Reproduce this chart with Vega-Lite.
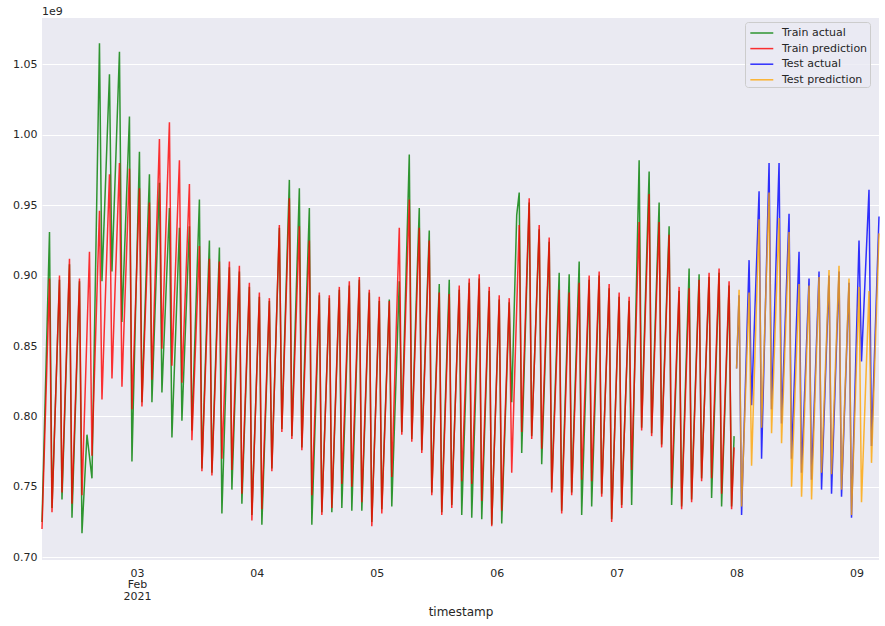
{
  "$schema": "https://vega.github.io/schema/vega-lite/v6.json",
  "width": 837,
  "height": 542,
  "autosize": {"type": "none"},
  "padding": {"left": 42, "top": 18, "right": 6, "bottom": 66},
  "background": "white",
  "title": {"text": "1e9", "anchor": "start", "frame": "group", "font": "DejaVu Sans", "fontSize": 11, "fontWeight": "normal", "color": "#262626", "offset": 1},
  "datasets": {
    "ta": [
      {"t":"2021-02-02T05:00","v":0.725},{"t":"2021-02-02T06:30","v":0.931},{"t":"2021-02-02T07:00","v":0.735},{"t":"2021-02-02T08:30","v":0.897},{"t":"2021-02-02T09:00","v":0.741},{"t":"2021-02-02T10:30","v":0.908},{"t":"2021-02-02T11:00","v":0.728},{"t":"2021-02-02T12:30","v":0.896},{"t":"2021-02-02T13:00","v":0.717},{"t":"2021-02-02T14:00","v":0.787},{"t":"2021-02-02T15:00","v":0.756},{"t":"2021-02-02T16:30","v":1.065},{"t":"2021-02-02T17:00","v":0.896},{"t":"2021-02-02T18:30","v":1.043},{"t":"2021-02-02T19:00","v":0.903},{"t":"2021-02-02T20:30","v":1.059},{"t":"2021-02-02T21:00","v":0.867},{"t":"2021-02-02T22:30","v":1.013},{"t":"2021-02-02T23:00","v":0.768},
      {"t":"2021-02-03T00:30","v":0.988},{"t":"2021-02-03T01:00","v":0.810},{"t":"2021-02-03T02:30","v":0.972},{"t":"2021-02-03T03:00","v":0.810},{"t":"2021-02-03T04:30","v":0.966},{"t":"2021-02-03T05:00","v":0.817},{"t":"2021-02-03T06:30","v":0.948},{"t":"2021-02-03T07:00","v":0.785},{"t":"2021-02-03T08:30","v":0.934},{"t":"2021-02-03T09:00","v":0.797},{"t":"2021-02-03T10:30","v":0.935},{"t":"2021-02-03T11:00","v":0.790},{"t":"2021-02-03T12:30","v":0.954},{"t":"2021-02-03T13:00","v":0.763},{"t":"2021-02-03T14:30","v":0.925},{"t":"2021-02-03T15:00","v":0.760},{"t":"2021-02-03T16:30","v":0.920},{"t":"2021-02-03T17:00","v":0.731},{"t":"2021-02-03T18:30","v":0.906},{"t":"2021-02-03T19:00","v":0.748},{"t":"2021-02-03T20:30","v":0.903},{"t":"2021-02-03T21:00","v":0.738},{"t":"2021-02-03T22:30","v":0.892},{"t":"2021-02-03T23:00","v":0.730},
      {"t":"2021-02-04T00:30","v":0.885},{"t":"2021-02-04T01:00","v":0.723},{"t":"2021-02-04T02:30","v":0.882},{"t":"2021-02-04T03:00","v":0.763},{"t":"2021-02-04T04:30","v":0.934},{"t":"2021-02-04T05:00","v":0.791},{"t":"2021-02-04T06:30","v":0.968},{"t":"2021-02-04T07:00","v":0.786},{"t":"2021-02-04T08:30","v":0.962},{"t":"2021-02-04T09:00","v":0.778},{"t":"2021-02-04T10:30","v":0.948},{"t":"2021-02-04T11:00","v":0.723},{"t":"2021-02-04T12:30","v":0.886},{"t":"2021-02-04T13:00","v":0.732},{"t":"2021-02-04T14:30","v":0.884},{"t":"2021-02-04T15:00","v":0.732},{"t":"2021-02-04T16:30","v":0.890},{"t":"2021-02-04T17:00","v":0.735},{"t":"2021-02-04T18:30","v":0.893},{"t":"2021-02-04T19:00","v":0.733},{"t":"2021-02-04T20:30","v":0.897},{"t":"2021-02-04T21:00","v":0.733},{"t":"2021-02-04T22:30","v":0.888},{"t":"2021-02-04T23:00","v":0.725},
      {"t":"2021-02-05T00:30","v":0.882},{"t":"2021-02-05T01:00","v":0.734},{"t":"2021-02-05T02:30","v":0.883},{"t":"2021-02-05T03:00","v":0.736},{"t":"2021-02-05T04:30","v":0.896},{"t":"2021-02-05T05:00","v":0.789},{"t":"2021-02-05T06:30","v":0.986},{"t":"2021-02-05T07:00","v":0.784},{"t":"2021-02-05T08:30","v":0.948},{"t":"2021-02-05T09:00","v":0.776},{"t":"2021-02-05T10:30","v":0.932},{"t":"2021-02-05T11:00","v":0.746},{"t":"2021-02-05T12:30","v":0.894},{"t":"2021-02-05T13:00","v":0.732},{"t":"2021-02-05T14:30","v":0.897},{"t":"2021-02-05T15:00","v":0.737},{"t":"2021-02-05T16:30","v":0.890},{"t":"2021-02-05T17:00","v":0.730},{"t":"2021-02-05T18:30","v":0.895},{"t":"2021-02-05T19:00","v":0.728},{"t":"2021-02-05T20:30","v":0.898},{"t":"2021-02-05T21:00","v":0.727},{"t":"2021-02-05T22:30","v":0.889},{"t":"2021-02-05T23:00","v":0.723},
      {"t":"2021-02-06T00:30","v":0.883},{"t":"2021-02-06T01:00","v":0.724},{"t":"2021-02-06T02:30","v":0.881},{"t":"2021-02-06T03:00","v":0.810},{"t":"2021-02-06T04:00","v":0.943},{"t":"2021-02-06T04:30","v":0.959},{"t":"2021-02-06T05:00","v":0.774},{"t":"2021-02-06T06:30","v":0.952},{"t":"2021-02-06T07:00","v":0.786},{"t":"2021-02-06T08:30","v":0.933},{"t":"2021-02-06T09:00","v":0.766},{"t":"2021-02-06T10:30","v":0.924},{"t":"2021-02-06T11:00","v":0.748},{"t":"2021-02-06T12:30","v":0.902},{"t":"2021-02-06T13:00","v":0.733},{"t":"2021-02-06T14:30","v":0.901},{"t":"2021-02-06T15:00","v":0.746},{"t":"2021-02-06T16:30","v":0.910},{"t":"2021-02-06T17:00","v":0.730},{"t":"2021-02-06T18:30","v":0.897},{"t":"2021-02-06T19:00","v":0.736},{"t":"2021-02-06T20:30","v":0.900},{"t":"2021-02-06T21:00","v":0.745},{"t":"2021-02-06T22:30","v":0.891},{"t":"2021-02-06T23:00","v":0.727},
      {"t":"2021-02-07T00:30","v":0.885},{"t":"2021-02-07T01:00","v":0.737},{"t":"2021-02-07T02:30","v":0.882},{"t":"2021-02-07T03:00","v":0.737},{"t":"2021-02-07T04:30","v":0.982},{"t":"2021-02-07T05:00","v":0.792},{"t":"2021-02-07T06:30","v":0.974},{"t":"2021-02-07T07:00","v":0.788},{"t":"2021-02-07T08:30","v":0.952},{"t":"2021-02-07T09:00","v":0.780},{"t":"2021-02-07T10:30","v":0.935},{"t":"2021-02-07T11:00","v":0.737},{"t":"2021-02-07T12:30","v":0.889},{"t":"2021-02-07T13:00","v":0.736},{"t":"2021-02-07T14:30","v":0.905},{"t":"2021-02-07T15:00","v":0.741},{"t":"2021-02-07T16:30","v":0.901},{"t":"2021-02-07T17:00","v":0.756},{"t":"2021-02-07T18:30","v":0.899},{"t":"2021-02-07T19:00","v":0.742},{"t":"2021-02-07T20:30","v":0.902},{"t":"2021-02-07T21:00","v":0.736},{"t":"2021-02-07T22:30","v":0.893},{"t":"2021-02-07T23:00","v":0.736},{"t":"2021-02-07T23:30","v":0.786}
    ],
    "tp": [
      {"t":"2021-02-02T05:00","v":0.720},{"t":"2021-02-02T06:30","v":0.898},{"t":"2021-02-02T07:00","v":0.732},{"t":"2021-02-02T08:30","v":0.900},{"t":"2021-02-02T09:00","v":0.746},{"t":"2021-02-02T10:30","v":0.912},{"t":"2021-02-02T11:00","v":0.738},{"t":"2021-02-02T12:30","v":0.898},{"t":"2021-02-02T13:00","v":0.744},{"t":"2021-02-02T14:30","v":0.917},{"t":"2021-02-02T15:00","v":0.772},{"t":"2021-02-02T16:30","v":0.946},{"t":"2021-02-02T17:00","v":0.812},{"t":"2021-02-02T18:30","v":0.972},{"t":"2021-02-02T19:00","v":0.827},{"t":"2021-02-02T20:30","v":0.980},{"t":"2021-02-02T21:00","v":0.821},{"t":"2021-02-02T22:30","v":0.976},{"t":"2021-02-02T23:00","v":0.805},
      {"t":"2021-02-03T00:30","v":0.962},{"t":"2021-02-03T01:00","v":0.807},{"t":"2021-02-03T02:30","v":0.952},{"t":"2021-02-03T03:00","v":0.826},{"t":"2021-02-03T04:30","v":0.997},{"t":"2021-02-03T05:00","v":0.848},{"t":"2021-02-03T06:30","v":1.009},{"t":"2021-02-03T07:00","v":0.836},{"t":"2021-02-03T08:30","v":0.982},{"t":"2021-02-03T09:00","v":0.824},{"t":"2021-02-03T10:30","v":0.965},{"t":"2021-02-03T11:00","v":0.783},{"t":"2021-02-03T12:30","v":0.921},{"t":"2021-02-03T13:00","v":0.761},{"t":"2021-02-03T14:30","v":0.912},{"t":"2021-02-03T15:00","v":0.758},{"t":"2021-02-03T16:30","v":0.910},{"t":"2021-02-03T17:00","v":0.770},{"t":"2021-02-03T18:30","v":0.910},{"t":"2021-02-03T19:00","v":0.762},{"t":"2021-02-03T20:30","v":0.907},{"t":"2021-02-03T21:00","v":0.745},{"t":"2021-02-03T22:30","v":0.895},{"t":"2021-02-03T23:00","v":0.726},
      {"t":"2021-02-04T00:30","v":0.888},{"t":"2021-02-04T01:00","v":0.734},{"t":"2021-02-04T02:30","v":0.884},{"t":"2021-02-04T03:00","v":0.761},{"t":"2021-02-04T04:30","v":0.936},{"t":"2021-02-04T05:00","v":0.789},{"t":"2021-02-04T06:30","v":0.955},{"t":"2021-02-04T07:00","v":0.784},{"t":"2021-02-04T08:30","v":0.935},{"t":"2021-02-04T09:00","v":0.776},{"t":"2021-02-04T10:30","v":0.925},{"t":"2021-02-04T11:00","v":0.744},{"t":"2021-02-04T12:30","v":0.888},{"t":"2021-02-04T13:00","v":0.730},{"t":"2021-02-04T14:30","v":0.886},{"t":"2021-02-04T15:00","v":0.735},{"t":"2021-02-04T16:30","v":0.892},{"t":"2021-02-04T17:00","v":0.752},{"t":"2021-02-04T18:30","v":0.896},{"t":"2021-02-04T19:00","v":0.750},{"t":"2021-02-04T20:30","v":0.899},{"t":"2021-02-04T21:00","v":0.739},{"t":"2021-02-04T22:30","v":0.890},{"t":"2021-02-04T23:00","v":0.722},
      {"t":"2021-02-05T00:30","v":0.885},{"t":"2021-02-05T01:00","v":0.731},{"t":"2021-02-05T02:30","v":0.882},{"t":"2021-02-05T03:00","v":0.757},{"t":"2021-02-05T04:30","v":0.934},{"t":"2021-02-05T05:00","v":0.787},{"t":"2021-02-05T06:30","v":0.954},{"t":"2021-02-05T07:00","v":0.782},{"t":"2021-02-05T08:30","v":0.934},{"t":"2021-02-05T09:00","v":0.774},{"t":"2021-02-05T10:30","v":0.925},{"t":"2021-02-05T11:00","v":0.744},{"t":"2021-02-05T12:30","v":0.888},{"t":"2021-02-05T13:00","v":0.730},{"t":"2021-02-05T14:30","v":0.887},{"t":"2021-02-05T15:00","v":0.735},{"t":"2021-02-05T16:30","v":0.893},{"t":"2021-02-05T17:00","v":0.754},{"t":"2021-02-05T18:30","v":0.898},{"t":"2021-02-05T19:00","v":0.752},{"t":"2021-02-05T20:30","v":0.901},{"t":"2021-02-05T21:00","v":0.740},{"t":"2021-02-05T22:30","v":0.892},{"t":"2021-02-05T23:00","v":0.722},
      {"t":"2021-02-06T00:30","v":0.886},{"t":"2021-02-06T01:00","v":0.733},{"t":"2021-02-06T02:30","v":0.884},{"t":"2021-02-06T03:00","v":0.760},{"t":"2021-02-06T04:30","v":0.936},{"t":"2021-02-06T05:00","v":0.789},{"t":"2021-02-06T06:30","v":0.955},{"t":"2021-02-06T07:00","v":0.784},{"t":"2021-02-06T08:30","v":0.936},{"t":"2021-02-06T09:00","v":0.777},{"t":"2021-02-06T10:30","v":0.927},{"t":"2021-02-06T11:00","v":0.746},{"t":"2021-02-06T12:30","v":0.890},{"t":"2021-02-06T13:00","v":0.731},{"t":"2021-02-06T14:30","v":0.888},{"t":"2021-02-06T15:00","v":0.744},{"t":"2021-02-06T16:30","v":0.895},{"t":"2021-02-06T17:00","v":0.755},{"t":"2021-02-06T18:30","v":0.900},{"t":"2021-02-06T19:00","v":0.754},{"t":"2021-02-06T20:30","v":0.903},{"t":"2021-02-06T21:00","v":0.743},{"t":"2021-02-06T22:30","v":0.894},{"t":"2021-02-06T23:00","v":0.725},
      {"t":"2021-02-07T00:30","v":0.888},{"t":"2021-02-07T01:00","v":0.735},{"t":"2021-02-07T02:30","v":0.885},{"t":"2021-02-07T03:00","v":0.762},{"t":"2021-02-07T04:30","v":0.938},{"t":"2021-02-07T05:00","v":0.790},{"t":"2021-02-07T06:30","v":0.958},{"t":"2021-02-07T07:00","v":0.786},{"t":"2021-02-07T08:30","v":0.938},{"t":"2021-02-07T09:00","v":0.778},{"t":"2021-02-07T10:30","v":0.929},{"t":"2021-02-07T11:00","v":0.749},{"t":"2021-02-07T12:30","v":0.892},{"t":"2021-02-07T13:00","v":0.734},{"t":"2021-02-07T14:30","v":0.891},{"t":"2021-02-07T15:00","v":0.739},{"t":"2021-02-07T16:30","v":0.897},{"t":"2021-02-07T17:00","v":0.754},{"t":"2021-02-07T18:30","v":0.902},{"t":"2021-02-07T19:00","v":0.756},{"t":"2021-02-07T20:30","v":0.905},{"t":"2021-02-07T21:00","v":0.745},{"t":"2021-02-07T22:30","v":0.896},{"t":"2021-02-07T23:00","v":0.734},{"t":"2021-02-07T23:30","v":0.778}
    ],
    "ea": [
      {"t":"2021-02-08T00:00","v":0.834},{"t":"2021-02-08T00:30","v":0.886},{"t":"2021-02-08T01:00","v":0.730},{"t":"2021-02-08T02:30","v":0.911},{"t":"2021-02-08T03:00","v":0.808},{"t":"2021-02-08T04:30","v":0.960},{"t":"2021-02-08T05:00","v":0.770},{"t":"2021-02-08T06:30","v":0.980},{"t":"2021-02-08T07:00","v":0.805},{"t":"2021-02-08T08:30","v":0.980},{"t":"2021-02-08T09:00","v":0.795},{"t":"2021-02-08T10:30","v":0.944},{"t":"2021-02-08T11:00","v":0.770},{"t":"2021-02-08T12:30","v":0.917},{"t":"2021-02-08T13:00","v":0.760},{"t":"2021-02-08T14:30","v":0.898},{"t":"2021-02-08T15:00","v":0.755},{"t":"2021-02-08T16:30","v":0.903},{"t":"2021-02-08T17:00","v":0.748},{"t":"2021-02-08T18:30","v":0.900},{"t":"2021-02-08T19:00","v":0.745},{"t":"2021-02-08T20:30","v":0.903},{"t":"2021-02-08T21:00","v":0.743},{"t":"2021-02-08T22:30","v":0.895},{"t":"2021-02-08T23:00","v":0.728},
      {"t":"2021-02-09T00:30","v":0.925},{"t":"2021-02-09T01:00","v":0.839},{"t":"2021-02-09T02:30","v":0.961},{"t":"2021-02-09T03:00","v":0.779},{"t":"2021-02-09T04:30","v":0.942}
    ],
    "ep": [
      {"t":"2021-02-08T00:00","v":0.834},{"t":"2021-02-08T00:30","v":0.890},{"t":"2021-02-08T01:00","v":0.736},{"t":"2021-02-08T02:30","v":0.888},{"t":"2021-02-08T03:00","v":0.765},{"t":"2021-02-08T04:30","v":0.940},{"t":"2021-02-08T05:00","v":0.792},{"t":"2021-02-08T06:30","v":0.959},{"t":"2021-02-08T07:00","v":0.788},{"t":"2021-02-08T08:30","v":0.941},{"t":"2021-02-08T09:00","v":0.781},{"t":"2021-02-08T10:30","v":0.931},{"t":"2021-02-08T11:00","v":0.750},{"t":"2021-02-08T12:30","v":0.894},{"t":"2021-02-08T13:00","v":0.743},{"t":"2021-02-08T14:30","v":0.893},{"t":"2021-02-08T15:00","v":0.741},{"t":"2021-02-08T16:30","v":0.899},{"t":"2021-02-08T17:00","v":0.760},{"t":"2021-02-08T18:30","v":0.904},{"t":"2021-02-08T19:00","v":0.759},{"t":"2021-02-08T20:30","v":0.907},{"t":"2021-02-08T21:00","v":0.748},{"t":"2021-02-08T22:30","v":0.898},{"t":"2021-02-08T23:00","v":0.730},
      {"t":"2021-02-09T00:30","v":0.892},{"t":"2021-02-09T01:00","v":0.739},{"t":"2021-02-09T02:30","v":0.889},{"t":"2021-02-09T03:00","v":0.767},{"t":"2021-02-09T04:30","v":0.930}
    ]
  },
  "encoding": {
    "x": {
      "field": "t", "type": "temporal", "title": "timestamp",
      "scale": {"domain": [{"year": 2021, "month": 2, "date": 2, "hours": 5}, {"year": 2021, "month": 2, "date": 9, "hours": 4, "minutes": 30}], "nice": false},
      "axis": {
        "values": [{"year": 2021, "month": 2, "date": 3}, {"year": 2021, "month": 2, "date": 4}, {"year": 2021, "month": 2, "date": 5}, {"year": 2021, "month": 2, "date": 6}, {"year": 2021, "month": 2, "date": 7}, {"year": 2021, "month": 2, "date": 8}, {"year": 2021, "month": 2, "date": 9}],
        "labelExpr": "date(datum.value) == 3 ? ['03', 'Feb', '2021'] : timeFormat(datum.value, '%d')",
        "grid": false, "labelAngle": 0, "labelPadding": 7, "labelLineHeight": 11.5, "titlePadding": 5
      }
    },
    "y": {
      "field": "v", "type": "quantitative", "title": null,
      "scale": {"domain": [0.698, 1.083], "nice": false, "zero": false},
      "axis": {"values": [0.70, 0.75, 0.80, 0.85, 0.90, 0.95, 1.00, 1.05], "format": ".2f", "labelPadding": 5}
    }
  },
  "layer": [
    {"data": {"name": "ta"}, "mark": {"type": "line"}, "encoding": {"color": {"datum": "Train actual", "type": "nominal", "scale": {"domain": ["Train actual", "Train prediction", "Test actual", "Test prediction"], "range": ["#008000", "#ff0000", "#0000ff", "#ffa500"]}, "legend": {"title": null, "orient": "none", "legendX": 703, "legendY": 4, "symbolType": "M-0.71,0H2.16", "symbolSize": 256, "symbolStrokeWidth": 1.5, "symbolOpacity": 0.8, "labelFont": "DejaVu Sans", "labelFontSize": 11, "labelColor": "#262626", "padding": 2, "rowPadding": 1.6, "labelOffset": 17, "fillColor": "rgba(234,234,242,0.8)", "strokeColor": "#cccccc", "cornerRadius": 3}}}},
    {"data": {"name": "tp"}, "mark": {"type": "line"}, "encoding": {"color": {"datum": "Train prediction", "type": "nominal"}}},
    {"data": {"name": "ea"}, "mark": {"type": "line"}, "encoding": {"color": {"datum": "Test actual", "type": "nominal"}}},
    {"data": {"name": "ep"}, "mark": {"type": "line"}, "encoding": {"color": {"datum": "Test prediction", "type": "nominal"}}}
  ],
  "config": {
    "view": {"fill": "#EAEAF2", "stroke": null},
    "axis": {"domain": false, "ticks": false, "labelFont": "DejaVu Sans", "labelFontSize": 11, "labelColor": "#262626", "titleFont": "DejaVu Sans", "titleFontSize": 12, "titleColor": "#262626", "titleFontWeight": "normal", "gridColor": "#ffffff", "gridWidth": 1, "gridOpacity": 1},
    "line": {"strokeWidth": 1.5, "opacity": 0.8}
  }
}
